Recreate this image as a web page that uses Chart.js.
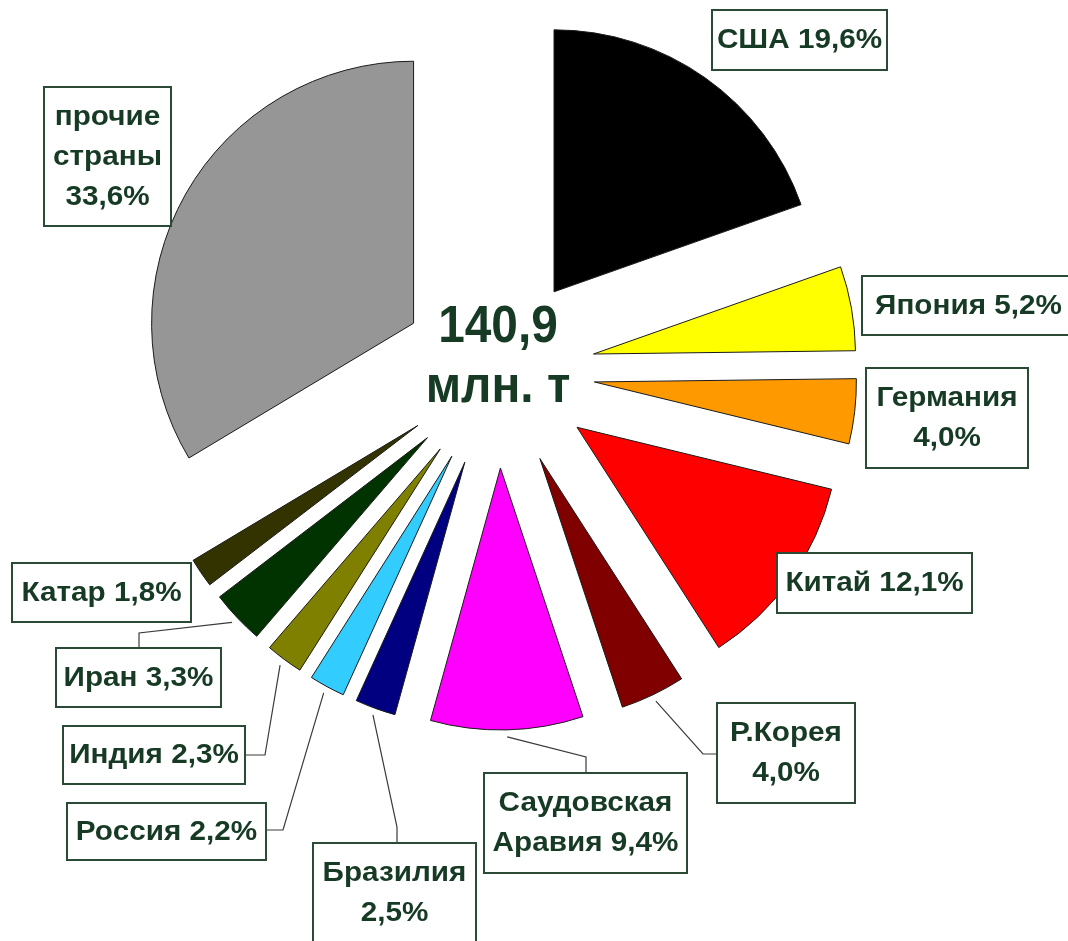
<!DOCTYPE html>
<html>
<head>
<meta charset="utf-8">
<script src="https://cdn.jsdelivr.net/npm/chart.js@4/dist/chart.umd.min.js"></script>
<style>
  html, body { margin: 0; padding: 0; background: #ffffff; }
  #wrap { width: 1068px; height: 941px; position: relative; }
</style>
</head>
<body>
<div id="wrap"><canvas id="chart"></canvas></div>
<script>
// ---------------- DATA ----------------
const categories = ['США', 'Япония', 'Германия', 'Китай', 'Р.Корея', 'Саудовская Аравия',
                    'Бразилия', 'Россия', 'Индия', 'Иран', 'Катар', 'прочие страны'];
const shares = [19.6, 5.2, 4.0, 12.1, 4.0, 9.4, 2.5, 2.2, 2.3, 3.3, 1.8, 33.6];
const totalValue = '140,9';
const totalUnit = 'млн. т';

// ---------------- STYLE ----------------
const sliceColors = ['#000000', '#FFFF00', '#FF9900', '#FF0000', '#800000', '#FF00FF',
                     '#000080', '#33CCFF', '#808000', '#003300', '#333300', '#969696'];
const RADIUS = 262;     // pie radius, px
const EXPLODE = 97;     // distance each slice is pulled out from the centre, px
const TEXT_COLOR = '#163a24';
const BOX_COLOR = '#2b4a36';
const LINE_COLOR = '#3a3a3a';

// label boxes [x1, y1, x2, y2], wrap mode, optional leader elbow [x, y]
const labelLayout = [
  { box: [712, 10, 887, 70],   wrap: 'one' },
  { box: [862, 276, 1075, 335], wrap: 'one' },
  { box: [866, 368, 1028, 468], wrap: 'two' },
  { box: [777, 553, 972, 613], wrap: 'one' },
  { box: [717, 703, 855, 803], wrap: 'two',   elbow: [703, 754] },
  { box: [484, 773, 687, 873], wrap: 'words', elbow: [586, 757] },
  { box: [313, 843, 476, 943], wrap: 'two',   elbow: [397, 827] },
  { box: [67, 803, 266, 860],  wrap: 'one',   elbow: [283, 830] },
  { box: [63, 726, 245, 784],  wrap: 'one',   elbow: [265, 755] },
  { box: [56, 648, 221, 707],  wrap: 'one',   elbow: [139, 633] },
  { box: [12, 563, 191, 622],  wrap: 'one' },
  { box: [44, 87, 171, 226],   wrap: 'split' }
];

function fmtPct(v) { return v.toFixed(1).replace('.', ',') + '%'; }
function labelLines(i) {
  const name = categories[i], pct = fmtPct(shares[i]);
  const mode = labelLayout[i].wrap;
  if (mode === 'one') return [name + ' ' + pct];
  if (mode === 'two') return [name, pct];
  const words = name.split(' ');
  if (mode === 'words') { words[words.length - 1] += ' ' + pct; return words; }
  return words.concat([pct]);
}

function stretchedText(ctx, text, x, y, sx) {
  ctx.save();
  ctx.translate(x, y);
  ctx.scale(sx, 1);
  ctx.fillText(text, 0, 0);
  ctx.restore();
}

// Exploded pie: pull every slice straight out along its bisector
// (keeps radius and angle of each slice unchanged).
const explodePie = {
  id: 'explodePie',
  afterDatasetUpdate(chart, args) {
    const meta = chart.getDatasetMeta(args.index);
    meta.data.forEach(arc => {
      const mid = (arc.startAngle + arc.endAngle) / 2;
      arc.x += Math.cos(mid) * EXPLODE;
      arc.y += Math.sin(mid) * EXPLODE;
    });
  }
};

const labelsPlugin = {
  id: 'labelsPlugin',
  afterDatasetsDraw(chart) {
    const ctx = chart.ctx;
    const meta = chart.getDatasetMeta(0);
    const area = chart.chartArea;
    const cx = (area.left + area.right) / 2;
    const cy = (area.top + area.bottom) / 2;

    // centre text
    ctx.save();
    ctx.fillStyle = TEXT_COLOR;
    ctx.textAlign = 'center';
    ctx.textBaseline = 'alphabetic';
    ctx.font = 'bold 52px "Liberation Sans", Arial, sans-serif';
    stretchedText(ctx, totalValue, cx, cy - 29, 0.92);
    stretchedText(ctx, totalUnit, cx, cy + 31, 0.92);
    ctx.restore();

    // leader lines
    ctx.save();
    ctx.strokeStyle = LINE_COLOR;
    ctx.lineWidth = 1.2;
    meta.data.forEach((arc, i) => {
      const lay = labelLayout[i];
      if (!lay.elbow) return;
      const mid = (arc.startAngle + arc.endAngle) / 2;
      const sx = arc.x + Math.cos(mid) * (arc.outerRadius + 7);
      const sy = arc.y + Math.sin(mid) * (arc.outerRadius + 7);
      const [ex, ey] = lay.elbow;
      const [x1, y1, x2, y2] = lay.box;
      let tx, ty;
      if (ey < y1) { tx = ex; ty = y1; }
      else if (ex > x2) { tx = x2; ty = ey; }
      else { tx = x1; ty = ey; }
      ctx.beginPath();
      ctx.moveTo(sx, sy);
      ctx.lineTo(ex, ey);
      ctx.lineTo(tx, ty);
      ctx.stroke();
    });
    ctx.restore();

    // label boxes
    ctx.save();
    ctx.font = 'bold 27px "Liberation Sans", Arial, sans-serif';
    ctx.textAlign = 'center';
    ctx.textBaseline = 'middle';
    labelLayout.forEach((lay, i) => {
      const [x1, y1, x2, y2] = lay.box;
      ctx.fillStyle = '#ffffff';
      ctx.fillRect(x1, y1, x2 - x1, y2 - y1);
      ctx.strokeStyle = BOX_COLOR;
      ctx.lineWidth = 2;
      ctx.strokeRect(x1, y1, x2 - x1, y2 - y1);
      const lines = labelLines(i);
      const lh = 40;
      const midY = (y1 + y2) / 2 + 1;
      const midX = (x1 + x2) / 2;
      ctx.fillStyle = TEXT_COLOR;
      lines.forEach((t, k) => {
        const y = midY + (k - (lines.length - 1) / 2) * lh;
        stretchedText(ctx, t, midX, y, 1.1);
      });
    });
    ctx.restore();
  }
};

new Chart(document.getElementById('chart'), {
  type: 'pie',
  data: {
    labels: categories,
    datasets: [{
      data: shares,
      backgroundColor: sliceColors,
      borderColor: '#1a1a1a',
      borderWidth: 1,
      offset: 0,
      hoverOffset: 0
    }]
  },
  options: {
    responsive: true,
    maintainAspectRatio: false,
    animation: false,
    events: [],
    radius: RADIUS,
    rotation: 0,
    layout: { padding: { left: 0, top: 0, right: 72, bottom: 199 } },
    plugins: {
      legend: { display: false },
      tooltip: { enabled: false },
      title: { display: false }
    }
  },
  plugins: [explodePie, labelsPlugin]
});
</script>
</body>
</html>
